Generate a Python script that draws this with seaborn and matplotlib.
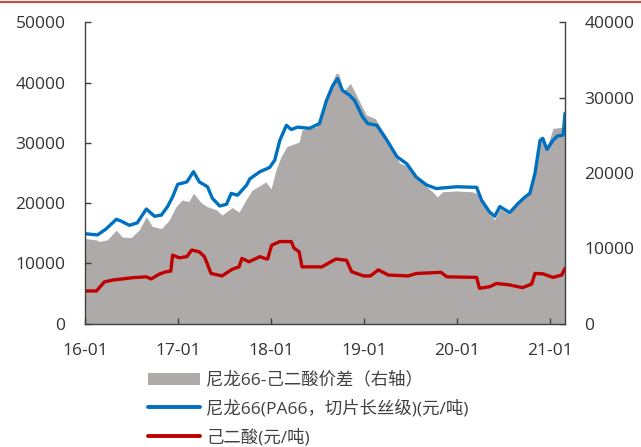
import matplotlib
matplotlib.use("Agg")
import matplotlib.pyplot as plt
from matplotlib.patches import Patch
from matplotlib.lines import Line2D
import pandas as pd
import seaborn as sns

# PA66 chip (filament grade) price, yuan/ton
pa66_dates = [
    "2016-01-01", "2016-02-19", "2016-03-24", "2016-05-03", "2016-05-22", "2016-06-23",
    "2016-07-24", "2016-08-29", "2016-09-30", "2016-10-27", "2016-11-20", "2016-12-10",
    "2016-12-30", "2017-02-04", "2017-03-02", "2017-03-25", "2017-04-26", "2017-05-15",
    "2017-06-13", "2017-07-10", "2017-07-28", "2017-08-22", "2017-09-27", "2017-10-09",
    "2017-11-18", "2017-12-26", "2018-01-15", "2018-02-04", "2018-03-02", "2018-03-21",
    "2018-04-15", "2018-06-01", "2018-07-10", "2018-08-06", "2018-08-31", "2018-09-19",
    "2018-10-08", "2018-11-05", "2018-11-25", "2018-12-26", "2019-01-15", "2019-02-20",
    "2019-04-01", "2019-05-10", "2019-06-18", "2019-07-25", "2019-09-03", "2019-10-12",
    "2019-11-05", "2019-12-31", "2020-03-18", "2020-04-06", "2020-05-08", "2020-05-28",
    "2020-06-17", "2020-07-26", "2020-08-27", "2020-09-24", "2020-10-13", "2020-11-02",
    "2020-11-22", "2020-12-03", "2020-12-19", "2021-01-12", "2021-01-28", "2021-02-21",
    "2021-02-28",
]
pa66_price = [
    14900, 14700, 15700, 17300, 17000, 16300,
    16700, 19000, 17800, 18000, 19400, 21000,
    23100, 23500, 25200, 23500, 22700, 20800,
    19500, 19800, 21600, 21300, 23000, 24000,
    25200, 25900, 27100, 30400, 32900, 32200,
    32600, 32400, 33200, 37000, 39500, 40650,
    38700, 37900, 37000, 34300, 33200, 32900,
    30400, 27700, 26500, 24300, 23000, 22400,
    22500, 22700, 22600, 20500, 18500, 17800,
    19400, 18400, 19900, 21000, 21600, 24900,
    30400, 30700, 28900, 30400, 31100, 31300,
    34900,
]

# Adipic acid price, yuan/ton
adipic_dates = [
    "2016-01-01", "2016-02-15", "2016-03-17", "2016-04-17", "2016-07-05", "2016-08-29",
    "2016-09-17", "2016-10-19", "2016-11-15", "2016-12-03", "2016-12-10", "2017-01-05",
    "2017-02-04", "2017-02-23", "2017-03-25", "2017-04-14", "2017-05-10", "2017-06-22",
    "2017-08-01", "2017-08-28", "2017-09-08", "2017-10-06", "2017-11-18", "2017-12-07",
    "2017-12-18", "2018-01-03", "2018-02-04", "2018-03-21", "2018-04-01", "2018-04-21",
    "2018-05-02", "2018-07-19", "2018-09-12", "2018-10-24", "2018-11-13", "2018-12-30",
    "2019-01-26", "2019-02-26", "2019-04-06", "2019-06-23", "2019-07-25", "2019-10-30",
    "2019-11-22", "2020-03-18", "2020-03-29", "2020-05-08", "2020-06-04", "2020-07-26",
    "2020-09-14", "2020-10-20", "2020-11-02", "2020-12-03", "2021-01-12", "2021-02-15",
    "2021-02-28",
]
adipic_price = [
    5400, 5400, 6900, 7200, 7600, 7750,
    7400, 8200, 8600, 8700, 11350, 10900,
    11100, 12200, 11900, 11100, 8300, 7900,
    9000, 9400, 10800, 10250, 11100, 10800,
    10700, 13000, 13600, 13600, 12500, 11900,
    9400, 9400, 10700, 10500, 8600, 7900,
    7900, 8900, 8050, 7900, 8300, 8500,
    7750, 7650, 5850, 6100, 6650, 6400,
    5950, 6550, 8300, 8250, 7650, 8050,
    9150,
]

# PA66 minus adipic acid spread, yuan/ton (right axis)
spread_dates = [
    "2016-01-01", "2016-02-15", "2016-02-26", "2016-03-28", "2016-05-03", "2016-05-26",
    "2016-06-30", "2016-07-31", "2016-08-29", "2016-09-21", "2016-10-27", "2016-11-26",
    "2016-12-23", "2017-01-16", "2017-02-12", "2017-03-02", "2017-04-02", "2017-04-26",
    "2017-05-31", "2017-06-22", "2017-08-01", "2017-08-28", "2017-09-24", "2017-10-18",
    "2017-11-22", "2017-12-11", "2018-01-01", "2018-01-20", "2018-02-08", "2018-03-04",
    "2018-04-21", "2018-05-02", "2018-06-26", "2018-07-19", "2018-08-15", "2018-09-12",
    "2018-09-23", "2018-10-12", "2018-11-08", "2018-11-28", "2018-12-18", "2019-01-10",
    "2019-02-14", "2019-03-26", "2019-05-03", "2019-05-20", "2019-06-15", "2019-07-25",
    "2019-09-03", "2019-09-26", "2019-10-16", "2019-11-05", "2019-12-31", "2020-02-27",
    "2020-03-18", "2020-04-06", "2020-05-08", "2020-05-28", "2020-06-17", "2020-07-26",
    "2020-08-27", "2020-10-05", "2020-11-02", "2020-11-22", "2020-12-03", "2020-12-19",
    "2021-01-12", "2021-02-21", "2021-02-28",
]
spread_value = [
    11300, 11100, 10900, 11100, 12400, 11500,
    11400, 12400, 14200, 12900, 12600, 13700,
    15500, 16400, 16200, 17300, 16000, 15500,
    15100, 14400, 15400, 14800, 16400, 17700,
    18400, 18800, 17900, 20400, 22100, 23500,
    24100, 25700, 26100, 28300, 31000, 33200,
    33200, 30800, 31900, 30600, 29200, 27700,
    27200, 25000, 22600, 21300, 21000, 19500,
    18200, 17500, 16800, 17500, 17600, 17500,
    17300, 16200, 14600, 13800, 15200, 14500,
    16000, 17300, 20400, 24800, 24900, 23400,
    25900, 26100, 26100,
]

left_ticks = [0, 10000, 20000, 30000, 40000, 50000]
right_ticks = [0, 10000, 20000, 30000, 40000]
year_ticks = ["2016-01-01", "2017-01-01", "2018-01-01", "2019-01-01", "2020-01-01", "2021-01-01"]
year_labels = ["16-01", "17-01", "18-01", "19-01", "20-01", "21-01"]

legend_labels = [
    "尼龙66-己二酸价差（右轴）",
    "尼龙66(PA66，切片长丝级)(元/吨)",
    "己二酸(元/吨)",
]

GRAY = "#AEAAAA"
BLUE = "#0070C0"
RED = "#C00000"
INK = "#333333"

sns.set_style("white")
plt.rcParams["font.family"] = ["Open Sans", "Noto Sans CJK SC", "DejaVu Sans"]

pa66 = pd.DataFrame({"date": pd.to_datetime(pa66_dates), "price": pa66_price})
adipic = pd.DataFrame({"date": pd.to_datetime(adipic_dates), "price": adipic_price})
spread = pd.DataFrame({"date": pd.to_datetime(spread_dates), "value": spread_value})

fig = plt.figure(figsize=(6.41, 4.47), dpi=100)
ax = fig.add_axes([85 / 641, 1 - 323.5 / 447, 480 / 641, 301.2 / 447])
ax2 = ax.twinx()

# spread area on the right axis, kept behind the price lines
ax2.fill_between(spread["date"], spread["value"], 0, color=GRAY, linewidth=0)
ax.set_zorder(ax2.get_zorder() + 1)
ax.patch.set_visible(False)

sns.lineplot(data=pa66, x="date", y="price", ax=ax, color=BLUE, linewidth=2.4)
sns.lineplot(data=adipic, x="date", y="price", ax=ax, color=RED, linewidth=2.4)

xmin, xmax = pd.Timestamp("2016-01-01"), pd.Timestamp("2021-02-28")
ax.set_xlim(xmin, xmax)
ax.set_ylim(0, 50000)
ax2.set_ylim(0, 40000)

ax.set_xticks(pd.to_datetime(year_ticks))
ax.set_xticklabels(year_labels)
ax.set_yticks(left_ticks)
ax.set_yticklabels([str(v) for v in left_ticks])
ax2.set_yticks(right_ticks)
ax2.set_yticklabels([str(v) for v in right_ticks])
ax.set_xlabel("")
ax.set_ylabel("")
ax2.set_ylabel("")

for a in (ax, ax2):
    a.spines["top"].set_visible(False)
    for s in ("left", "right", "bottom"):
        a.spines[s].set_color("#404040")
        a.spines[s].set_linewidth(1.0)
ax.spines["right"].set_visible(False)
ax2.spines["left"].set_visible(False)
ax2.spines["bottom"].set_visible(False)

ax.tick_params(axis="x", direction="in", length=4, width=1, color="#404040",
               labelsize=12.5, labelcolor=INK, pad=14, bottom=True)
ax.tick_params(axis="y", direction="in", length=4, width=1, color="#404040",
               labelsize=12.5, labelcolor=INK, pad=14, left=True)
ax2.tick_params(axis="y", direction="in", length=4, width=1, color="#404040",
                labelsize=12.5, labelcolor=INK, pad=14, right=True)
ax.grid(False)
ax2.grid(False)

handles = [
    Patch(facecolor=GRAY, edgecolor="none"),
    Line2D([0], [0], color=BLUE, linewidth=2.8),
    Line2D([0], [0], color=RED, linewidth=2.8),
]
fig.legend(handles, legend_labels, loc="upper left",
           bbox_to_anchor=(148 / 641, 1 - 372 / 447), frameon=False,
           fontsize=12.5, labelcolor="#404040", handlelength=3.0,
           handletextpad=0.35, labelspacing=0.64, borderaxespad=0, borderpad=0)

# thin rule along the top edge
fig.add_artist(Line2D([0, 1], [1 - 2 / 447, 1 - 2 / 447], transform=fig.transFigure,
                      color="#C0504D", linewidth=1.6))

fig.savefig("out.png", dpi=100)
